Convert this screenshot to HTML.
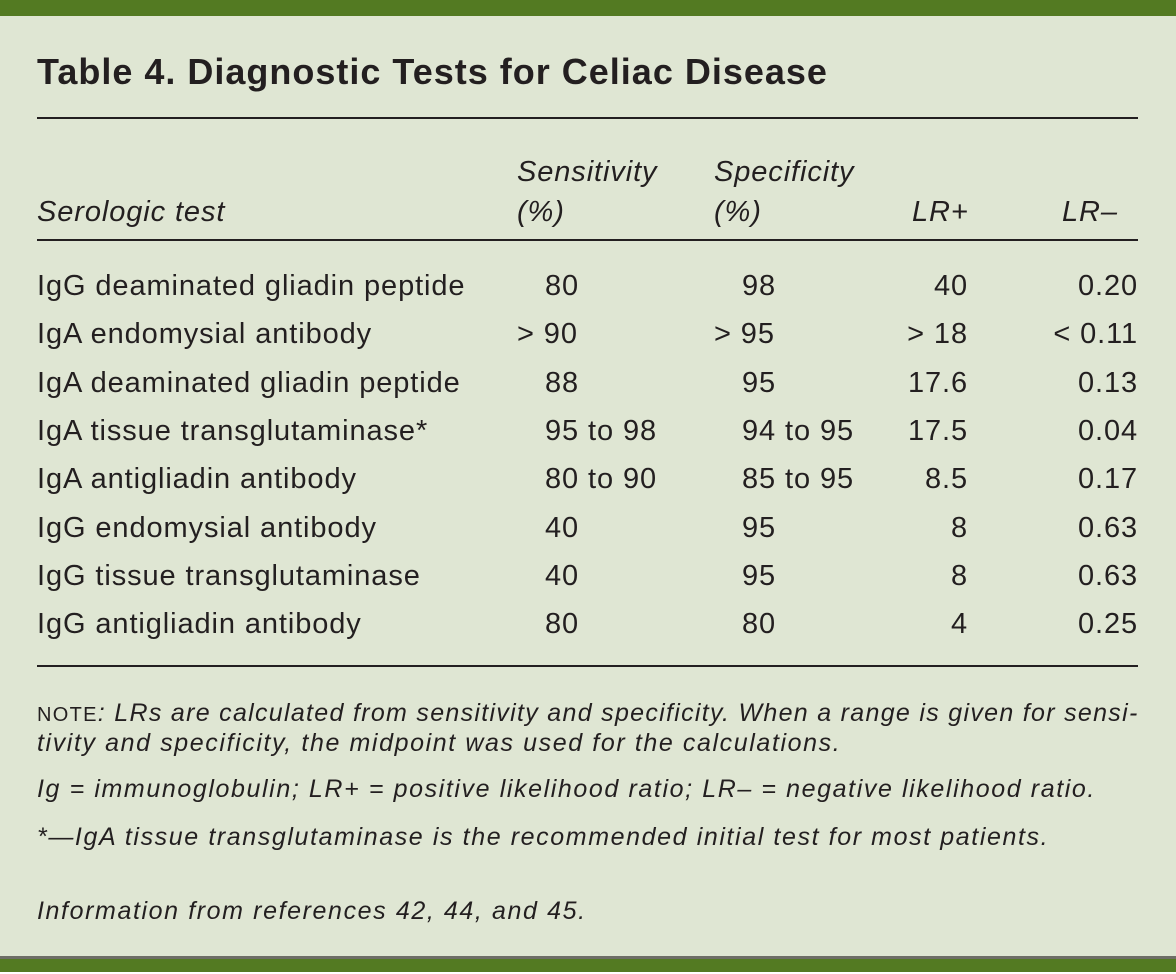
<!DOCTYPE html>
<html><head><style>
body{margin:0;width:1176px;height:974px;background:#dfe6d3;position:relative;overflow:hidden;font-family:"Liberation Sans",sans-serif;color:#231f20}
.t{position:absolute;white-space:nowrap;font-size:29px;letter-spacing:0.9px;line-height:1}
.i{font-style:italic}
.r{text-align:right}
.rule{position:absolute;left:37px;width:1101px;height:2px;background:#231f20}
.n{position:absolute;white-space:nowrap;font-size:25px;letter-spacing:1.6px;font-style:italic;line-height:1;left:37px}
</style></head><body>
<div style="position:absolute;left:0;top:0;width:1176px;height:16px;background:#537a22"></div>
<div style="position:absolute;left:0;top:956px;width:1176px;height:3px;background:#6e6e66"></div>
<div style="position:absolute;left:0;top:959px;width:1176px;height:13px;background:#537a22"></div>
<div style="position:absolute;left:0;top:972px;width:1176px;height:2px;background:#fff"></div>
<div class="t" style="left:37px;top:54px;font-size:36px;letter-spacing:1px;font-weight:bold">Table 4. Diagnostic Tests for Celiac Disease</div>
<div class="rule" style="top:117px"></div>
<div class="t i" style="left:517px;top:158px">Sensitivity</div>
<div class="t i" style="left:714px;top:158px">Specificity</div>
<div class="t i" style="left:37px;top:198px">Serologic test</div>
<div class="t i" style="left:517px;top:198px">(%)</div>
<div class="t i" style="left:714px;top:198px">(%)</div>
<div class="t i" style="left:912px;top:198px">LR+</div>
<div class="t i" style="left:1062px;top:198px">LR–</div>
<div class="rule" style="top:239px"></div>
<div id="rows"></div>
<script>
var d=[["IgG deaminated gliadin peptide","80","98","40","0.20"],
["IgA endomysial antibody","> 90","> 95","> 18","< 0.11"],
["IgA deaminated gliadin peptide","88","95","17.6","0.13"],
["IgA tissue transglutaminase*","95 to 98","94 to 95","17.5","0.04"],
["IgA antigliadin antibody","80 to 90","85 to 95","8.5","0.17"],
["IgG endomysial antibody","40","95","8","0.63"],
["IgG tissue transglutaminase","40","95","8","0.63"],
["IgG antigliadin antibody","80","80","4","0.25"]];
var h="";
d.forEach(function(r,k){var y=272+k*48.3;
var gt=function(s,x){return s.indexOf("> ")==0?'<div class="t" style="left:'+(x-28)+'px;top:'+y+'px">'+s+'</div>':'<div class="t" style="left:'+x+'px;top:'+y+'px">'+s+'</div>';};
h+='<div class="t" style="left:37px;top:'+y+'px">'+r[0]+'</div>'+gt(r[1],545)+gt(r[2],742)+
'<div class="t r" style="right:'+(1176-968)+'px;top:'+y+'px">'+r[3]+'</div>'+
'<div class="t r" style="right:'+(1176-1138)+'px;top:'+y+'px">'+r[4]+'</div>';});
document.getElementById("rows").innerHTML=h;
</script>
<div class="rule" style="top:665px"></div>
<div class="n" style="top:701px;letter-spacing:1.3px"><span style="font-style:normal;font-size:20px">NOTE</span>: LRs are calculated from sensitivity and specificity. When a range is given for sensi-</div>
<div class="n" style="top:731px">tivity and specificity, the midpoint was used for the calculations.</div>
<div class="n" style="top:777px">Ig = immunoglobulin; LR+ = positive likelihood ratio; LR– = negative likelihood ratio.</div>
<div class="n" style="top:825px">*—IgA tissue transglutaminase is the recommended initial test for most patients.</div>
<div class="n" style="top:899px">Information from references 42, 44, and 45.</div>
</body></html>
